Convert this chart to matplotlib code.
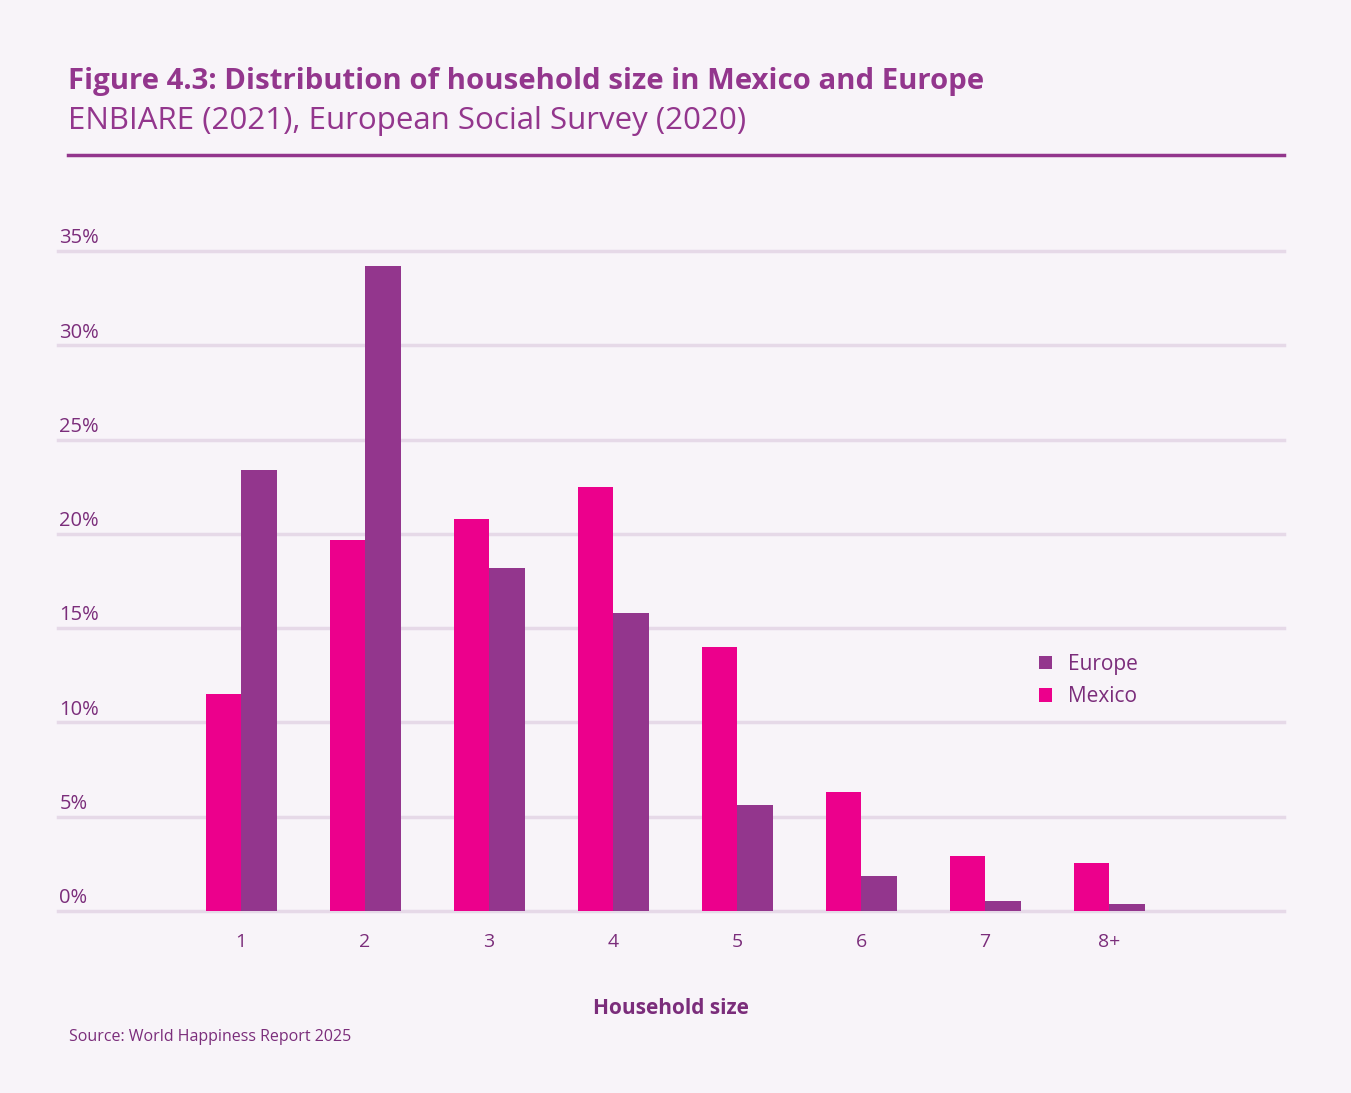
import matplotlib.pyplot as plt
import numpy as np

# Data (share of households, %)
sizes = ["1", "2", "3", "4", "5", "6", "7", "8+"]
mexico = [11.5, 19.7, 20.8, 22.5, 14.0, 6.3, 2.9, 2.55]
europe = [23.4, 34.2, 18.2, 15.8, 5.6, 1.85, 0.55, 0.35]
y_ticks = [0, 5, 10, 15, 20, 25, 30, 35]

# Colours
BG = "#f8f4f9"
PINK = "#ec008c"
PURPLE = "#93368d"
TEXT = "#7b2d7b"
GRID = "#e6d9e8"

plt.rcParams['font.family'] = ['Open Sans', 'DejaVu Sans']

fig = plt.figure(figsize=(13.51, 10.93), dpi=100, facecolor=BG)
ax = fig.add_axes([58/1351, 182/1093, 1226/1351, 660/1093])
ax.set_facecolor(BG)

x = np.arange(len(sizes))
w = 0.286
ax.bar(x - w/2, mexico, width=w, color=PINK, label="Mexico", zorder=3)
ax.bar(x + w/2, europe, width=w, color=PURPLE, label="Europe", zorder=3)

ax.set_xlim(-1.476, 8.41)
ax.set_ylim(0, 35)
for s in ax.spines.values():
	s.set_visible(False)

# gridlines with labels sitting above them
for t in y_ticks:
	ax.axhline(t, color=GRID, lw=2.5, zorder=1, clip_on=False)
	ax.annotate(f"{t}%", xy=(0, t), xycoords=('axes fraction', 'data'),
		xytext=(1, 2), textcoords='offset points',
		fontsize=14.5, color=TEXT, va='bottom', ha='left')
ax.set_yticks([])

ax.set_xticks(x)
ax.set_xticklabels(sizes, fontsize=14, color=TEXT)
ax.tick_params(axis='x', length=0, pad=16)
ax.set_xlabel("Household size", fontsize=15, color=TEXT, fontweight='bold', labelpad=34)

# legend (Europe first)
h, l = ax.get_legend_handles_labels()
leg = ax.legend(h[::-1], l[::-1], loc='upper left', bbox_to_anchor=(0.785, 0.418),
	frameon=False, fontsize=15, handlelength=0.6, handleheight=0.6,
	handletextpad=0.8, labelspacing=0.55)
for txt in leg.get_texts():
	txt.set_color(TEXT)

# header
fig.text(68/1351, 1 - 82/1093, "Figure 4.3: Distribution of household size in Mexico and Europe",
	fontsize=21.2, fontweight='bold', color=PURPLE, va='center', ha='left')
fig.text(68/1351, 1 - 121/1093, "ENBIARE (2021), European Social Survey (2020)",
	fontsize=22.5, color=PURPLE, va='center', ha='left')
fig.add_artist(plt.Line2D([68/1351, 1284/1351], [1 - 155/1093, 1 - 155/1093],
	color=PURPLE, lw=2.5, transform=fig.transFigure))

fig.text(69/1351, 1 - 1037/1093, "Source: World Happiness Report 2025",
	fontsize=11.5, color=TEXT, va='center', ha='left')

plt.savefig("out.png", dpi=100, facecolor=BG)
